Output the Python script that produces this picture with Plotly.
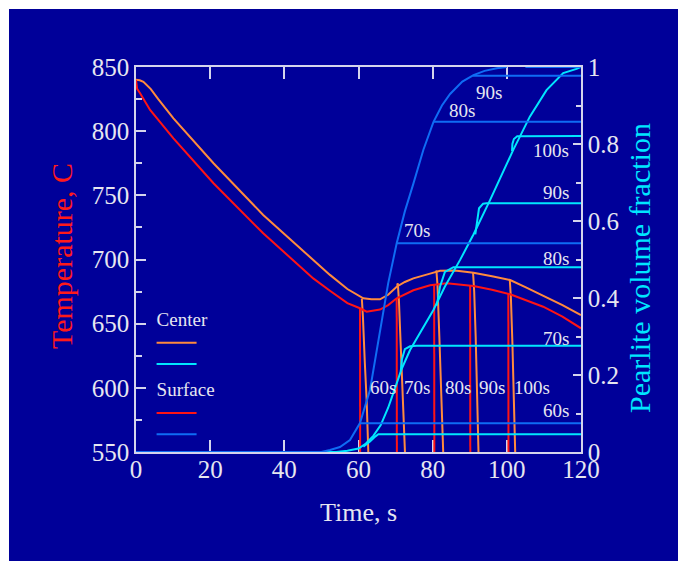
import plotly.graph_objects as go

# ---------------- data ----------------
# main temperature curves (C) vs time (s)
center_t = [0, 1, 2, 3, 4, 6, 10.1, 20.9, 34.3, 47.8, 52.3, 57, 60.4, 61.3, 63.5, 65.8, 68, 70.3, 72.5,
            74.8, 79.3, 82, 86, 91, 96, 100.9, 105, 109.8, 115, 120]
center_temp = [840, 839.7, 838.5, 836, 832.8, 825, 810, 775, 734.7, 699.6, 688, 677, 671, 669.8, 669, 669, 672.5,
               678.8, 682.5, 685.3, 689, 691.3, 691.5, 689.7, 687, 684, 678.5, 672, 664.5, 656.7]
surface_t = [0, 0.3, 1.1, 3.8, 10.1, 20.9, 34.3, 47.8, 52.3, 57, 60.4, 62.2, 65.8, 68, 70.3, 74.8,
             79.3, 83.8, 91, 96, 100.9, 105, 109.8, 115, 120]
surface_temp = [840, 833, 829.5, 816.5, 794.4, 759.4, 720.4, 685.3, 675.7, 666, 662, 659.3, 661, 664.5, 669.8, 676,
                680, 681.4, 679.3, 676.5, 672.9, 668.5, 663.2, 655.5, 646.4]

# quench (cooling) curves after interruption at 60,70,80,90,100 s
surf_quench_t = [[60.4, 60.45], [70.3, 70.35], [80.4, 80.45], [90.1, 90.15], [100.4, 100.45]]
surf_quench_T = [[662, 540], [669.8, 540], [680.5, 540], [679.6, 540], [673.5, 540]]
cent_quench_t = [[60.9, 61.2, 61.7, 62.2, 62.7],
                 [70.4, 70.6, 70.9, 71.5, 72.1, 72.6],
                 [81.0, 81.3, 81.8, 82.3, 82.9],
                 [90.9, 91.2, 91.6, 92.0, 92.4],
                 [100.8, 101.1, 101.5, 101.9, 102.3]]
cent_quench_T = [[669.5, 655, 620, 590, 545],
                 [679.5, 681.5, 668, 620, 585, 545],
                 [691.5, 680, 640, 600, 545],
                 [689.5, 675, 640, 600, 545],
                 [684, 670, 635, 600, 545]]

# pearlite volume fraction
surf_frac_t = [0, 50, 52.3, 55, 57.7, 60.4, 63.1, 65.8, 68.0, 70.3, 72.5, 74.8, 77.5, 80.2, 82.5, 84.7,
               88, 91, 94, 97.3, 100]
surf_frac = [0, 0, 0.005, 0.013, 0.031, 0.075, 0.161, 0.308, 0.438, 0.542, 0.625, 0.697, 0.785, 0.857, 0.9, 0.93,
             0.962, 0.979, 0.99, 0.997, 1.0]
cent_frac_t = [0, 54, 57, 60, 62, 64, 66, 68, 70, 71.6, 73.9, 77, 80.2, 83.3, 87.4, 91, 95.5, 101.7, 106.2,
               110.7, 115.2, 118.8, 120]
cent_frac = [0, 0, 0.003, 0.009, 0.022, 0.042, 0.07, 0.115, 0.17, 0.215, 0.265, 0.318, 0.369, 0.43, 0.499, 0.565,
             0.655, 0.784, 0.871, 0.94, 0.984, 0.995, 1.0]

surf_frac_q_t = [[60.4, 120], [70.3, 120], [80.2, 120], [90.9, 120], [105, 120]]
surf_frac_q = [[0.0745, 0.0745], [0.542, 0.542], [0.858, 0.858], [0.977, 0.977], [1.0, 1.0]]
cent_frac_q_t = [[61.3, 63.1, 64.5, 65.35, 120],
                 [71.4, 71.7, 72.5, 73.9, 75.7, 120],
                 [81.1, 82.0, 83.3, 85.6, 120],
                 [91.5, 91.9, 92.5, 93.6, 94.5, 120],
                 [101.4, 101.5, 101.9, 102.8, 120]]
cent_frac_q = [[0.014, 0.027, 0.040, 0.046, 0.046],
               [0.21, 0.24, 0.267, 0.2745, 0.276, 0.276],
               [0.38, 0.43, 0.468, 0.48, 0.48],
               [0.565, 0.594, 0.633, 0.645, 0.646, 0.646],
               [0.782, 0.800, 0.813, 0.820, 0.821]]

# labels
temp_lbl_text = ["60s", "70s", "80s", "90s", "100s"]
temp_lbl_t = [66.5, 75.7, 86.9, 95.9, 106.9]
temp_lbl_T = [600, 600, 600, 600, 600]
frac_lbl_text = ["90s", "80s", "70s", "100s", "90s", "80s", "70s", "60s"]
frac_lbl_t = [95.3, 87.9, 75.7, 117.2, 117.2, 117.2, 117.2, 117.2]
frac_lbl_f = [0.934, 0.887, 0.575, 0.784, 0.675, 0.502, 0.294, 0.108]
frac_lbl_anchor = ["center", "center", "center", "right", "right", "right", "right", "right"]

# ---------------- style ----------------
SERIF = "Liberation Serif"
BG = "#000099"
TXT = "#e6e6f0"
AXC = "#d4d4ec"
ORANGE = "#ff8a3d"
RED = "#ff1414"
CYAN = "#00e6ff"
BLUE = "#0f6cf5"
LW = 2

fig = go.Figure()

# temperature quench lines
for tt, yy in zip(cent_quench_t, cent_quench_T):
    fig.add_trace(go.Scatter(x=tt, y=yy, mode="lines", line=dict(color=ORANGE, width=LW),
                             showlegend=False, hoverinfo="skip"))
for tt, yy in zip(surf_quench_t, surf_quench_T):
    fig.add_trace(go.Scatter(x=tt, y=yy, mode="lines", line=dict(color=RED, width=LW),
                             showlegend=False, hoverinfo="skip"))

fig.add_trace(go.Scatter(x=center_t, y=center_temp, mode="lines", line=dict(color=ORANGE, width=LW),
                         name=" ", legendgroup="c", legendgrouptitle_text="Center", legendrank=1))
fig.add_trace(go.Scatter(x=surface_t, y=surface_temp, mode="lines", line=dict(color=RED, width=LW),
                         name=" ", legendgroup="s", legendgrouptitle_text="Surface", legendrank=3))

# fraction
for tt, yy in zip(cent_frac_q_t, cent_frac_q):
    fig.add_trace(go.Scatter(x=tt, y=yy, yaxis="y2", mode="lines", line=dict(color=CYAN, width=LW),
                             showlegend=False, hoverinfo="skip"))
fig.add_trace(go.Scatter(x=cent_frac_t, y=cent_frac, yaxis="y2", mode="lines", line=dict(color=CYAN, width=LW),
                         name=" ", legendgroup="c", legendrank=2))
for tt, yy in zip(surf_frac_q_t, surf_frac_q):
    fig.add_trace(go.Scatter(x=tt, y=yy, yaxis="y2", mode="lines", line=dict(color=BLUE, width=LW),
                             showlegend=False, hoverinfo="skip"))
fig.add_trace(go.Scatter(x=surf_frac_t, y=surf_frac, yaxis="y2", mode="lines", line=dict(color=BLUE, width=LW),
                         name=" ", legendgroup="s", legendrank=4))

annotations = []
for s, x, y in zip(temp_lbl_text, temp_lbl_t, temp_lbl_T):
    annotations.append(dict(text=s, x=x, y=y, xref="x", yref="y", showarrow=False,
                            font=dict(family=SERIF, size=19, color=TXT)))
for s, x, y, a in zip(frac_lbl_text, frac_lbl_t, frac_lbl_f, frac_lbl_anchor):
    annotations.append(dict(text=s, x=x, y=y, xref="x", yref="y2", showarrow=False, xanchor=a,
                            font=dict(family=SERIF, size=19, color=TXT)))
annotations += [
    dict(text="Temperature, C", x=-0.1685, y=0.509, xref="paper", yref="paper", textangle=-90,
         xanchor="center", yanchor="middle",
         showarrow=False, font=dict(family=SERIF, size=30, color="#ff1a1a")),
    dict(text="Pearlite volume fraction", x=1.1326, y=0.478, xref="paper", yref="paper", textangle=-90,
         xanchor="center", yanchor="middle",
         showarrow=False, font=dict(family=SERIF, size=30, color=CYAN)),
    dict(text="Time, s", x=0.4989, y=-0.156, xref="paper", yref="paper", showarrow=False,
         xanchor="center", yanchor="middle",
         font=dict(family=SERIF, size=26, color=TXT)),
]

tickfont = dict(family=SERIF, size=25, color=TXT)
common = dict(showgrid=False, zeroline=False, showline=True, linecolor=AXC, linewidth=1.5,
              ticks="inside", tickcolor=AXC, tickwidth=1.5, tickfont=tickfont, layer="below traces")

fig.update_layout(
    width=678, height=561,
    margin=dict(l=136, r=97, t=67, b=109),
    paper_bgcolor=BG, plot_bgcolor=BG,
    xaxis=dict(range=[0, 120], tick0=0, dtick=20, ticklen=12, mirror="ticks", ticklabelstandoff=-6, **common),
    yaxis=dict(range=[550, 850], tick0=550, dtick=50, ticklen=10,
               minor=dict(dtick=25, ticks="inside", ticklen=6, tickcolor=AXC, tickwidth=1.5, showgrid=False),
               **common),
    yaxis2=dict(range=[0, 1], overlaying="y", side="right", anchor="x", tick0=0, dtick=0.2, ticklen=8,
                minor=dict(dtick=0.1, ticks="inside", ticklen=5, tickcolor=AXC, tickwidth=1.5, showgrid=False),
                **common),
    showlegend=True,
    legend=dict(x=0.035, y=0.396, xanchor="left", yanchor="top", bgcolor="rgba(0,0,0,0)",
                font=dict(family=SERIF, size=14, color=TXT),
                grouptitlefont=dict(family=SERIF, size=19, color=TXT),
                tracegroupgap=0, itemwidth=40, traceorder="grouped"),
    annotations=annotations,
    shapes=[
        dict(type="rect", xref="paper", yref="paper", x0=-0.32, x1=-0.2854, y0=-0.3, y1=1.2,
             fillcolor="white", line=dict(width=0), layer="above"),
        dict(type="rect", xref="paper", yref="paper", x0=-0.32, x1=1.3, y0=1.1506, y1=1.2,
             fillcolor="white", line=dict(width=0), layer="above"),
    ],
)

fig.write_html("out.html")
